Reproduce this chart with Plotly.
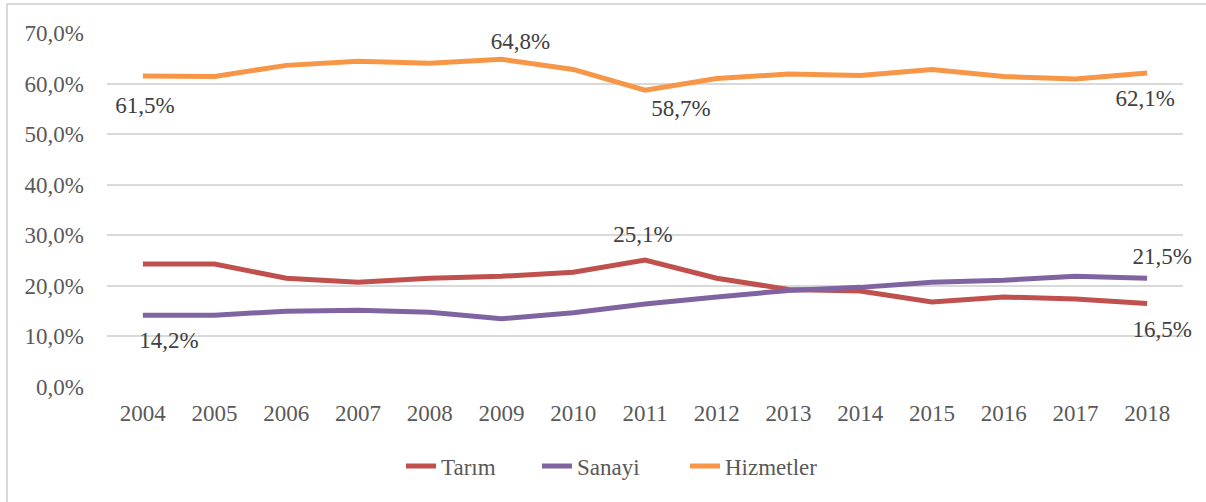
import plotly.graph_objects as go

years = [str(y) for y in range(2004, 2019)]
tarim = [24.3, 24.3, 21.5, 20.7, 21.5, 21.9, 22.7, 25.1, 21.5, 19.3, 19.0, 16.8, 17.8, 17.4, 16.5]
sanayi = [14.2, 14.2, 15.0, 15.2, 14.8, 13.5, 14.7, 16.4, 17.8, 19.1, 19.7, 20.7, 21.1, 21.9, 21.5]
hizmetler = [61.5, 61.4, 63.6, 64.4, 64.0, 64.8, 62.8, 58.7, 61.0, 61.9, 61.6, 62.8, 61.4, 60.9, 62.1]
y_ticks = [0, 10, 20, 30, 40, 50, 60, 70]
y_tick_labels = ["0,0%", "10,0%", "20,0%", "30,0%", "40,0%", "50,0%", "60,0%", "70,0%"]

# labelled points: (series, year index, x offset px, y offset px (up +))
labels = [
    (hizmetler, 0, 2, -31),
    (hizmetler, 5, 19, 16),
    (hizmetler, 7, 36, -20),
    (hizmetler, 14, -2, -27),
    (sanayi, 0, 26, -27),
    (tarim, 7, -2, 24),
    (sanayi, 14, 15, 20),
    (tarim, 14, 15, -28),
]

FONT = "Liberation Serif"
FS = 23
series = [("Tarım", tarim, "#C0504D"), ("Sanayi", sanayi, "#8064A2"), ("Hizmetler", hizmetler, "#F79646")]
legend_x_px = [401, 537, 685]

L, R, T, B = 107, 23, 33, 115
W, H = 1206, 502
pw, ph = W - L - R, H - T - B
YMAX = 70
px_per_cat = pw / len(years)
px_per_unit = ph / YMAX

def px(xp): return (xp - L) / pw
def py(yp): return (H - B - yp) / ph

fig = go.Figure()
legend_layouts = {}
for k, (name, vals, col) in enumerate(series):
    lg = "legend" if k == 0 else f"legend{k + 1}"
    fig.add_trace(go.Scatter(x=years, y=vals, name=name, mode="lines",
                             line=dict(color=col, width=5, shape="linear"),
                             hoverinfo="skip", legend=lg))
    legend_layouts[lg] = dict(orientation="h", x=px(legend_x_px[k]), xanchor="left",
                              y=py(466), yanchor="middle", bgcolor="rgba(0,0,0,0)",
                              font=dict(family=FONT, size=FS, color="#595959"))

lx, ly, lt = [], [], []
for vals, i, dx, dy in labels:
    lx.append(i + dx / px_per_cat)
    ly.append(vals[i] + dy / px_per_unit)
    lt.append(f"{vals[i]:.1f}%".replace(".", ","))
fig.add_trace(go.Scatter(x=lx, y=ly, text=lt, mode="text", xaxis="x2", yaxis="y",
                         textposition="middle center", showlegend=False, hoverinfo="skip",
                         cliponaxis=False,
                         textfont=dict(family=FONT, size=FS, color="#404040")))

shapes = [
    dict(type="line", xref="paper", yref="paper", x0=px(6), x1=px(1206), y0=py(4), y1=py(4),
         line=dict(color="#D9D9D9", width=2)),
    dict(type="line", xref="paper", yref="paper", x0=px(7), x1=px(7), y0=py(4), y1=py(502),
         line=dict(color="#D9D9D9", width=2)),
]

fig.update_layout(
    width=W, height=H,
    margin=dict(l=L, r=R, t=T, b=B),
    paper_bgcolor="white", plot_bgcolor="white",
    font=dict(family=FONT, size=FS, color="#595959"),
    shapes=shapes,
    xaxis=dict(type="category", range=[-0.5, 14.5], showgrid=False, zeroline=False,
               showline=False, ticks="", ticklabelstandoff=10,
               tickfont=dict(family=FONT, size=FS, color="#595959")),
    xaxis2=dict(overlaying="x", range=[-0.5, 14.5], visible=False, showgrid=False, zeroline=False),
    yaxis=dict(range=[0, YMAX], tickvals=y_ticks, ticktext=y_tick_labels, showgrid=True,
               gridcolor="#D9D9D9", gridwidth=1.5, zeroline=False, showline=False,
               ticks="", ticklabelstandoff=22,
               tickfont=dict(family=FONT, size=FS, color="#595959")),
    showlegend=True,
    **legend_layouts,
)

fig.write_html("out.html", config={"displayModeBar": False},
               post_script="document.body.style.margin='0';document.body.style.overflow='hidden';")
